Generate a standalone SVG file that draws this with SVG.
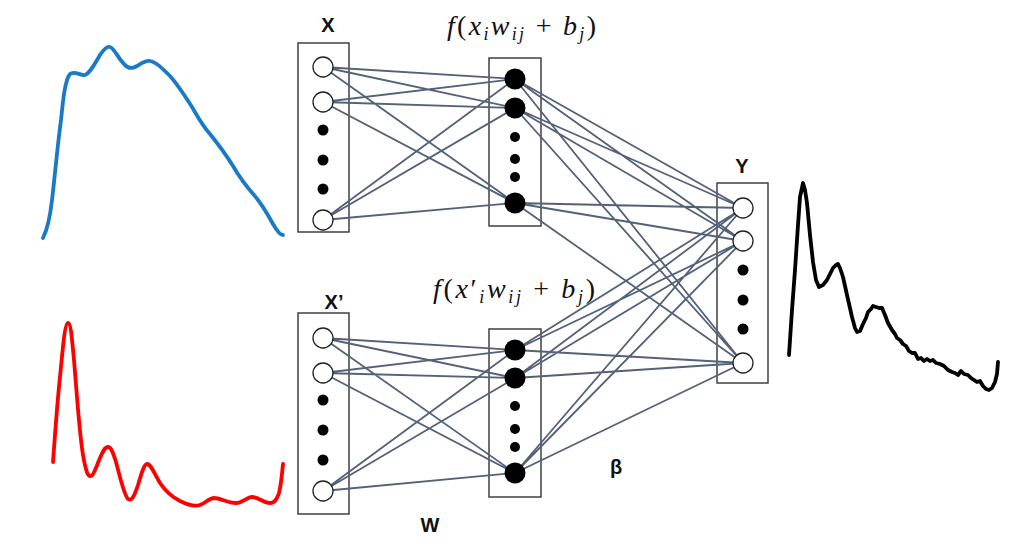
<svg xmlns="http://www.w3.org/2000/svg" width="1024" height="556" viewBox="0 0 1024 556">
<style>
.box{fill:none;stroke:#333;stroke-width:1.4}
.in{fill:#fff;stroke:#222;stroke-width:1.3}
.dot{fill:#000}
.edge{stroke:#536179;stroke-width:1.8;fill:none}
.lbl{font-family:"Liberation Sans",Arial,sans-serif;font-weight:bold;font-size:20px;fill:#111;text-anchor:middle}
.math{font-family:"Liberation Serif","Times New Roman",serif;font-size:28px;fill:#111}
.it{font-style:italic}
.sub{font-size:18px;font-style:italic}
.curve{fill:none;stroke-width:3.8;stroke-linecap:round;stroke-linejoin:round}
</style>
<rect width="1024" height="556" fill="#fff"/>

<g id="spectra">
<path class="curve" stroke="#1a7ac6" d="M43,238 C47,230 50,218 52,200 C55,175 57,150 61,120 C63,100 65,80 70,74 C75,70 80,76 85,75 C90,73 94,65 100,55 C104,49 107,46 110,47 C114,48 118,58 124,64 C128,69 132,69 137,66 C142,63 146,60 150,61 C156,62 162,68 170,76 C178,85 185,96 192,107 C198,117 202,125 210,134 C218,144 225,153 233,166 C240,178 246,186 254,195 C262,204 267,213 273,224 C277,231 280,235 283,235"/>
<path class="curve" stroke="#f00" d="M53,462 C55,435 57,405 60,377 C63,345 65,323 68,323 C71,323 72,340 74,360 C77,395 79,430 83,455 C86,472 88,477 91,476 C94,475 96,467 100,458 C103,451 105,447 108,447 C111,447 113,452 116,462 C120,477 124,495 128,499 C132,502 135,494 138,485 C141,475 144,464 147,464 C151,464 155,475 160,483 C166,492 172,497 180,501 C188,505 194,507 200,505 C206,503 209,498 214,498 C220,498 228,503 236,503 C243,503 247,497 252,497 C258,497 264,503 270,503 C275,503 277,499 279,493 C281,485 282,475 283,464"/>
<path class="curve" stroke="#000" stroke-width="3" d="M789,355 L792,310 L795,270 L798,225 L800,197 L803,183 L805,190 L807,203 L810,235 L813,262 L816,280 L819,287 L823,285 L827,280 L830,274 L833,268 L836,265 L838,264 L840,268 L843,277 L847,295 L852,317 L855,328 L857,332 L860,331 L863,324 L866,318 L868,312 L871,309 L873,306 L876,307 L879,308 L882,308 L885,315 L888,323 L892,330 L895,334 L897,338 L900,340 L903,344 L906,346 L909,351 L912,353 L915,353 L918,359 L921,358 L924,361 L927,359 L930,361 L933,360 L936,363 L940,364 L944,366 L948,370 L952,372 L955,373 L958,375 L961,371 L964,374 L968,375 L971,378 L974,380 L977,382 L980,381 L983,386 L986,389 L989,390 L992,388 L995,382 L997,374 L998,362"/>
</g>

<g id="boxes">
<rect class="box" x="298" y="43" width="51" height="189"/>
<rect class="box" x="489" y="58" width="52" height="168"/>
<rect class="box" x="298" y="313" width="51" height="201"/>
<rect class="box" x="489" y="329" width="52" height="168"/>
<rect class="box" x="717" y="183" width="51" height="200"/>
</g>

<g id="connectors">
<path class="edge" d="M323,67 L515,79 M323,67 L515,108 M323,67 L515,203 M323,102 L515,79 M323,102 L515,108 M323,102 L515,203 M323,220 L515,79 M323,220 L515,108 M323,220 L515,203"/>
<path class="edge" d="M323,338 L515,350 M323,338 L515,378 M323,338 L515,473 M323,373 L515,350 M323,373 L515,378 M323,373 L515,473 M323,491 L515,350 M323,491 L515,378 M323,491 L515,473"/>
<path class="edge" d="M515,79 L743,208 M515,79 L743,241 M515,79 L743,363 M515,108 L743,208 M515,108 L743,241 M515,108 L743,363 M515,203 L743,208 M515,203 L743,241 M515,203 L743,363"/>
<path class="edge" d="M515,350 L743,208 M515,350 L743,241 M515,350 L743,363 M515,378 L743,208 M515,378 L743,241 M515,378 L743,363 M515,473 L743,208 M515,473 L743,241 M515,473 L743,363"/>
</g>

<g id="input-x">
<circle class="in" cx="323" cy="67" r="10"/>
<circle class="in" cx="323" cy="102" r="10"/>
<circle class="dot" cx="323" cy="130" r="5.5"/>
<circle class="dot" cx="323" cy="160" r="5.5"/>
<circle class="dot" cx="323" cy="189" r="5.5"/>
<circle class="in" cx="323" cy="220" r="10"/>
<text class="lbl" x="328" y="32">X</text>
</g>

<g id="hidden-top">
<circle class="dot" cx="515" cy="79" r="10.5"/>
<circle class="dot" cx="515" cy="108" r="10.5"/>
<circle class="dot" cx="515" cy="137" r="5"/>
<circle class="dot" cx="515" cy="159" r="5"/>
<circle class="dot" cx="515" cy="177" r="5"/>
<circle class="dot" cx="515" cy="203" r="10.5"/>
<text class="math" x="447" y="35" textLength="149" lengthAdjust="spacing"><tspan class="it">f</tspan>(<tspan class="it">x</tspan><tspan class="sub" dy="5">i</tspan><tspan class="it" dy="-5">w</tspan><tspan class="sub" dy="5">ij</tspan><tspan dy="-5"> + </tspan><tspan class="it">b</tspan><tspan class="sub" dy="5">j</tspan><tspan dy="-5">)</tspan></text>
</g>

<g id="input-x-prime">
<circle class="in" cx="323" cy="338" r="10"/>
<circle class="in" cx="323" cy="373" r="10"/>
<circle class="dot" cx="323" cy="400" r="5.5"/>
<circle class="dot" cx="323" cy="430" r="5.5"/>
<circle class="dot" cx="323" cy="460" r="5.5"/>
<circle class="in" cx="323" cy="491" r="10"/>
<text class="lbl" x="334" y="309">X’</text>
</g>

<g id="hidden-bottom">
<circle class="dot" cx="515" cy="350" r="10.5"/>
<circle class="dot" cx="515" cy="378" r="10.5"/>
<circle class="dot" cx="515" cy="406" r="5"/>
<circle class="dot" cx="515" cy="429" r="5"/>
<circle class="dot" cx="515" cy="447" r="5"/>
<circle class="dot" cx="515" cy="473" r="10.5"/>
<text class="math" x="433" y="298" textLength="162" lengthAdjust="spacing"><tspan class="it">f</tspan>(<tspan class="it">x</tspan>′<tspan class="sub" dy="5">i</tspan><tspan class="it" dy="-5">w</tspan><tspan class="sub" dy="5">ij</tspan><tspan dy="-5"> + </tspan><tspan class="it">b</tspan><tspan class="sub" dy="5">j</tspan><tspan dy="-5">)</tspan></text>
</g>

<g id="output-y">
<circle class="in" cx="743" cy="208" r="10"/>
<circle class="in" cx="743" cy="241" r="10"/>
<circle class="dot" cx="743" cy="270" r="5.5"/>
<circle class="dot" cx="743" cy="300" r="5.5"/>
<circle class="dot" cx="743" cy="329" r="5.5"/>
<circle class="in" cx="743" cy="363" r="10"/>
<text class="lbl" x="742" y="173">Y</text>
</g>

<g id="weight-labels">
<text class="lbl" x="430" y="532">W</text>
<text class="lbl" x="616" y="474">β</text>
</g>
</svg>
